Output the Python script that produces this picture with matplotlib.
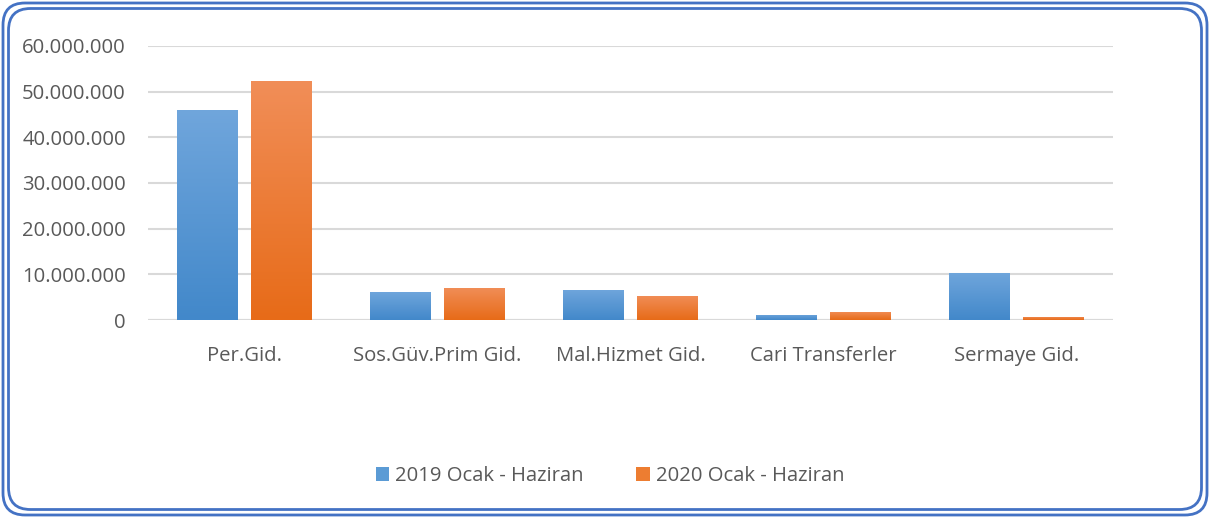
import numpy as np
import matplotlib.pyplot as plt
from matplotlib.patches import FancyBboxPatch, Patch
from matplotlib.colors import LinearSegmentedColormap
from matplotlib.ticker import FuncFormatter
import matplotlib.patheffects as pe

categories = ["Per.Gid.", "Sos.Güv.Prim Gid.", "Mal.Hizmet Gid.", "Cari Transferler", "Sermaye Gid."]
series_names = ["2019 Ocak - Haziran", "2020 Ocak - Haziran"]
values_2019 = [46.0e6, 6.2e6, 6.6e6, 1.2e6, 10.4e6]
values_2020 = [52.3e6, 7.1e6, 5.3e6, 1.8e6, 0.7e6]

plt.rcParams['font.family'] = ['Open Sans', 'DejaVu Sans']
text_color = "#595959"
fs = 14.6

fig = plt.figure(figsize=(12.1, 5.18), dpi=100)
ax = fig.add_axes([148 / 1210, 1 - 320 / 518, (1113 - 148) / 1210, (320 - 46) / 518])

x = np.arange(len(categories))
width = 0.316
offset = 0.19

# gradient colours (top, bottom)
grads = [("#70A6DC", "#4288CA"), ("#F18E58", "#E76B18")]
legend_colors = ["#5B9BD5", "#ED7D31"]

grad_img = np.linspace(0, 1, 256).reshape(-1, 1)
for i, (vals, (c_top, c_bot)) in enumerate(zip([values_2019, values_2020], grads)):
    cmap = LinearSegmentedColormap.from_list("g%d" % i, [c_top, c_bot])
    bars = ax.bar(x + (i - 0.5) * 2 * offset, vals, width, color=legend_colors[i], zorder=3,
                  path_effects=[pe.SimplePatchShadow(offset=(0, -2), shadow_rgbFace="#000000", alpha=0.15),
                                pe.Normal()])
    for b in bars:
        x0, y0 = b.get_x(), b.get_y()
        w, h = b.get_width(), b.get_height()
        im = ax.imshow(grad_img, cmap=cmap, aspect="auto", extent=(x0, x0 + w, y0, y0 + h),
                       origin="upper", zorder=4)
        im.set_clip_path(b)

ax.set_xlim(-0.5, len(categories) - 0.5)
ax.set_ylim(0, 60e6)
ax.set_yticks(np.arange(0, 60e6 + 1, 10e6))
ax.yaxis.set_major_formatter(FuncFormatter(lambda v, p: "{:,.0f}".format(v).replace(",", ".")))
ax.set_xticks(x)
ax.set_xticklabels(categories)
ax.tick_params(axis="both", length=0, labelsize=fs, colors=text_color)
ax.tick_params(axis="y", pad=16)
ax.tick_params(axis="x", pad=19)
ax.grid(axis="y", color="#D9D9D9", linewidth=1.5, zorder=0)
for s in ax.spines.values():
    s.set_visible(False)
ax.axhline(0, color="#D9D9D9", linewidth=1.5, zorder=2)

handles = [Patch(facecolor=c, edgecolor="none", label=n) for c, n in zip(legend_colors, series_names)]
fig.legend(handles=handles, loc="center", bbox_to_anchor=(610 / 1210, 1 - 476 / 518), ncol=2,
           frameon=False, fontsize=fs, handlelength=0.65, handleheight=0.65, handletextpad=0.3,
           columnspacing=2.6, labelcolor=text_color)

# double rounded border
for pad in [3, 8.5]:
    px, py = pad / 1210, pad / 518
    fig.patches.append(FancyBboxPatch((px, py), 1 - 2 * px, 1 - 2 * py,
                                      boxstyle="round,pad=0,rounding_size=%f" % (22 / 1210),
                                      transform=fig.transFigure, fill=False,
                                      edgecolor="#4472C4", linewidth=2, figure=fig,
                                      mutation_aspect=1210 / 518))

fig.savefig("out.png", dpi=100)
